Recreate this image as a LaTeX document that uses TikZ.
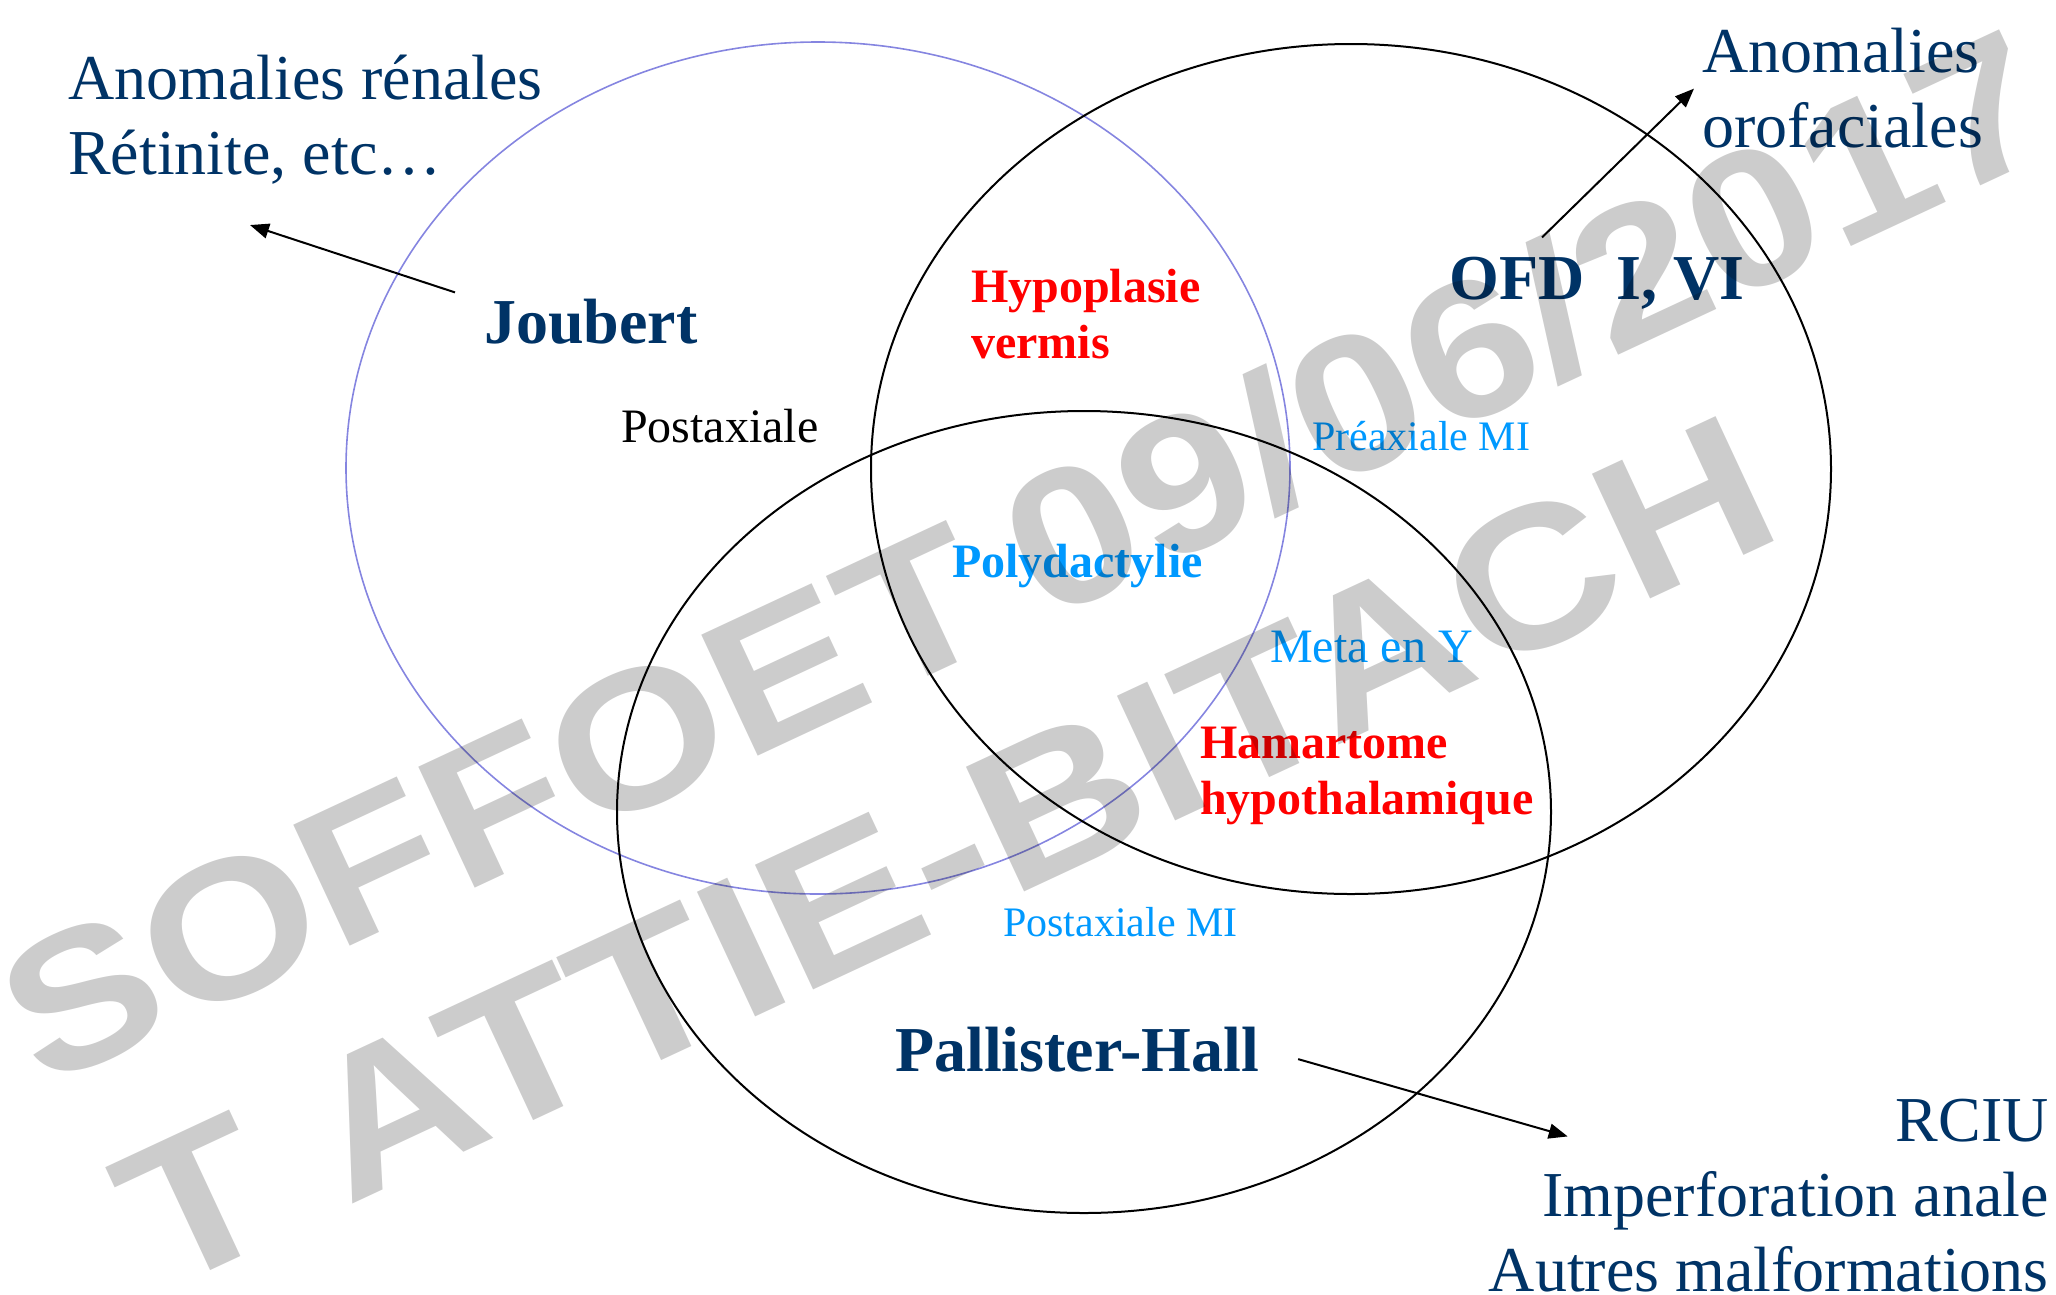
\documentclass[tikz,border=0pt]{standalone}
\usepackage{fontspec,xcolor,tikz}
\setmainfont{Liberation Serif}
\newfontfamily\filigrane[FakeStretch=1.16]{Liberation Sans}
\usetikzlibrary{arrows.meta,calc}
\definecolor{marine}{HTML}{003366}
\definecolor{rouge}{HTML}{FF0000}
\definecolor{ciel}{HTML}{0099FF}
\definecolor{lavande}{HTML}{8585E0}
\newcommand{\grand}{\fontsize{64}{75}\selectfont}
\newcommand{\moyen}{\fontsize{48}{56}\selectfont}
\newcommand{\petit}{\fontsize{42}{50}\selectfont}
\newcommand{\geant}{\fontsize{200}{240}\selectfont}
\tikzset{fleche/.style={line width=2pt,-{Triangle[length=19pt,width=15pt]}},
  cercle/.style={line width=2pt},
  txt/.style={inner sep=0,anchor=base west,align=left},
  filig/.style={inner sep=0,anchor=base west,rotate=#1,
    font=\filigrane\bfseries\geant,text=black,text opacity=0.2},
  filig/.default=25}

\begin{document}
\begin{tikzpicture}[x=1pt,y=-1pt]
\useasboundingbox (0,0) rectangle (2056,1294);
% les trois cercles
\draw[cercle,lavande,line width=1.6pt] (818,468) ellipse [x radius=472,y radius=426];
\draw[cercle] (1351,469) ellipse [x radius=480,y radius=425];
\draw[cercle] (1084,812) ellipse [x radius=467,y radius=401];
% textes (plusieurs lignes : ancre sur la derniere ligne)
\node[txt,text=marine,font=\grand] (renal) at (68,174) {Anomalies rénales\\Rétinite, etc…};
\node[txt,text=marine,font=\bfseries\grand] (joubert) at (484,343) {Joubert};
\node[txt,font=\moyen] (postax) at (621,442) {Postaxiale};
\node[txt,text=rouge,font=\bfseries\moyen] (vermis) at (971,358) {Hypoplasie\\vermis};
\node[txt,text=ciel,font=\bfseries\moyen] (polydac) at (952,577) {Polydactylie};
\node[txt,text=ciel,font=\petit] (preax) at (1312,450) {Préaxiale MI};
\node[txt,text=ciel,font=\moyen] (meta) at (1270,662) {Meta en Y};
\node[txt,text=rouge,font=\bfseries\moyen] (hamart) at (1200,814) {Hamartome\\hypothalamique};
\node[txt,text=ciel,font=\petit] (postaxmi) at (1003,936) {Postaxiale MI};
\node[txt,text=marine,font=\bfseries\grand] (pallister) at (895,1071) {Pallister-Hall};
\node[txt,text=marine,font=\bfseries\grand] (ofd) at (1449,299) {OFD\ \ I, VI};
\node[txt,text=marine,font=\grand] (orofac) at (1702,147) {Anomalies\\orofaciales};
\node[txt,anchor=base east,align=right,text=marine,font=\grand] (rciu) at (2049,1291)
  {RCIU\\Imperforation anale\\Autres malformations};
% fleches
\draw[fleche] ([shift={(-29,-6)}]joubert.north west) -- ([shift={(182,41)}]renal.south west);
\draw[fleche] ([shift={(93,-19)}]ofd.north west) -- ([shift={(-8,1)}]orofac.west);
\draw[fleche] ([shift={(39,10)}]pallister.east) -- ([shift={(79,38)}]rciu.north west);
% filigrane
\node[filig,scale=0.97] (filig1) at (42,1090) {SOFFOET\kern-0.1em\ 09/06/2017};
\node[filig] (filig2) at (161,1294) {T ATTIE-BITACH};
\end{tikzpicture}
\end{document}
